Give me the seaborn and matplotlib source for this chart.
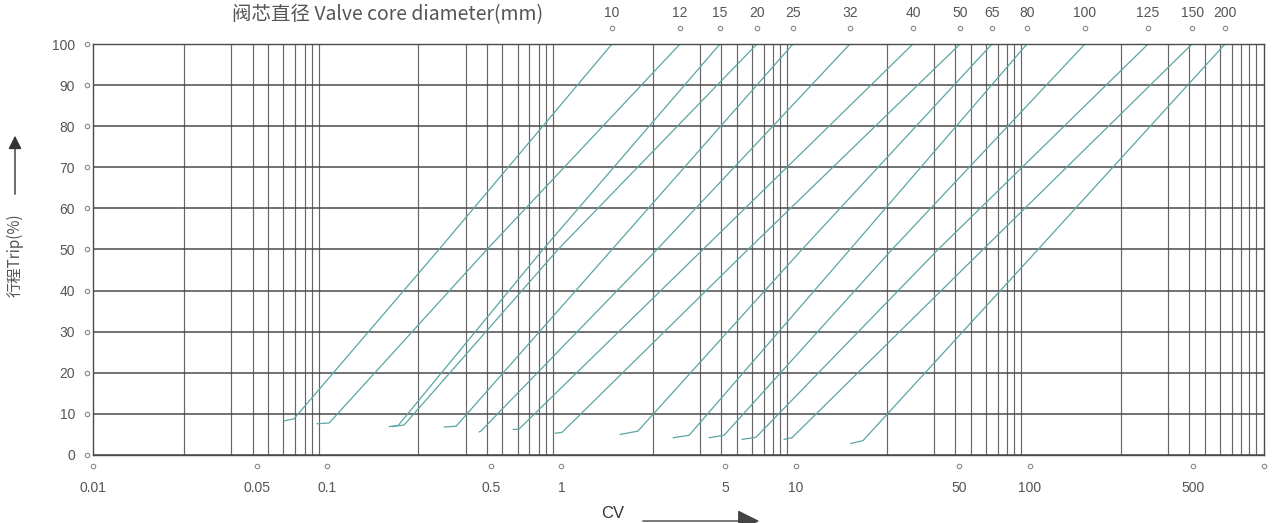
import numpy as np
import pandas as pd
import matplotlib
matplotlib.use("Agg")
import matplotlib.pyplot as plt
import seaborn as sns

# ---------------- data ----------------
diameters = [10, 12, 15, 20, 25, 32, 40, 50, 65, 80, 100, 125, 150, 200]
hook_cv = [0.0654, 0.0904, 0.184, 0.189, 0.315, 0.445, 0.622, 0.939, 1.78, 3.00, 4.27, 5.90, 8.92, 17.2]
hook_trip = [8.3, 7.6, 6.9, 6.9, 6.8, 5.6, 6.2, 5.3, 5.0, 4.2, 4.2, 3.8, 3.8, 2.8]
start_cv = [0.0721, 0.102, 0.201, 0.213, 0.355, 0.453, 0.659, 1.006, 2.12, 3.51, 4.95, 6.77, 9.65, 19.4]
start_trip = [8.8, 7.8, 7.2, 7.3, 7.0, 5.8, 6.3, 5.5, 5.8, 4.8, 4.8, 4.3, 4.2, 3.5]
mid_cv = [0.300, 0.481, 0.834, 0.967, 1.645, 2.56, 4.02, 6.26, 10.65, 17.07, 25.8, 40.6, 63.1, 108.4]
mid_trip = [50] * 14
top_cv = [1.645, 3.21, 4.755, 6.84, 9.75, 17.07, 31.7, 50.4, 69.0, 97.3, 172, 320, 493, 682]
top_trip = [100] * 14

x_tick_values = [0.01, 0.05, 0.1, 0.5, 1, 5, 10, 50, 100, 500, 1000]
x_tick_labels = ["0.01", "0.05", "0.1", "0.5", "1", "5", "10", "50", "100", "500", ""]
y_tick_values = [0, 10, 20, 30, 40, 50, 60, 70, 80, 90, 100]
decades = [0.01, 0.1, 1, 10, 100]
grid_mult = [2.45, 3.9, 4.8, 5.6, 6.5, 7.3, 8.0, 8.6, 9.2, 10]

rows = []
for i, d in enumerate(diameters):
    rows.append((d, hook_cv[i], hook_trip[i]))
    rows.append((d, start_cv[i], start_trip[i]))
    rows.append((d, mid_cv[i], mid_trip[i]))
    rows.append((d, top_cv[i], top_trip[i]))
df = pd.DataFrame(rows, columns=["diameter", "cv", "trip"])

# ---------------- figure ----------------
sns.set_theme(style="white")
plt.rcParams["font.family"] = ["Liberation Sans", "Noto Sans CJK SC", "DejaVu Sans"]

fig = plt.figure(figsize=(12.8, 5.23), dpi=100)
ax = fig.add_axes([93 / 1280, 1 - 455 / 523, (1264 - 93) / 1280, 411 / 523])

line_col = "#5aa5a5"
text_col = "#555555"

sns.lineplot(data=df, x="cv", y="trip", units="diameter", estimator=None,
             sort=False, color=line_col, linewidth=0.9, ax=ax)
ax.set_xscale("log")

# vertical grid lines
minor_pos = [dec * m for dec in decades for m in grid_mult]
ax.set_xticks(x_tick_values)
ax.set_xticklabels(x_tick_labels)
ax.set_xticks(minor_pos, minor=True)
ax.set_yticks(y_tick_values)
ax.grid(False)
ax.grid(which="minor", axis="x", color="#666666", linewidth=0.85)
ax.grid(which="major", axis="y", color="#4a4a4a", linewidth=1.1)
ax.tick_params(axis="x", which="both", length=0, pad=19, labelsize=10, labelcolor=text_col)
ax.tick_params(axis="y", which="both", length=0, pad=13, labelsize=10, labelcolor=text_col)
for s in ax.spines.values():
    s.set_color("#4a4a4a")
    s.set_linewidth(1.0)
ax.set_xlabel("")
ax.set_ylabel("")

# small circle marks at the tick positions
ax.plot([-0.005] * len(y_tick_values), y_tick_values, transform=ax.get_yaxis_transform(),
        ls="none", marker="o", ms=3.2, mfc="none", mec="#888888", mew=0.8, clip_on=False)
ax.plot(x_tick_values, [-0.026] * len(x_tick_values),
        transform=ax.get_xaxis_transform(), ls="none", marker="o", ms=3.2,
        mfc="none", mec="#888888", mew=0.8, clip_on=False)
ax.plot(top_cv, [1.038] * len(top_cv), transform=ax.get_xaxis_transform(), ls="none",
        marker="o", ms=3.2, mfc="none", mec="#888888", mew=0.8, clip_on=False)

# diameter labels at top
for cv, d in zip(top_cv, diameters):
    ax.text(cv, 1.075, str(d), transform=ax.get_xaxis_transform(), ha="center", va="center",
            fontsize=10, color=text_col)

ax.set_xlim(0.01, 1000)
ax.set_ylim(0, 100)

# title
fig.text(388 / 1280, 1 - 15 / 523, "阀芯直径 Valve core diameter(mm)", ha="center", va="center",
         fontsize=14, color=text_col, family=["Noto Sans CJK SC", "DejaVu Sans"])

# y label with arrow
fig.text(15 / 1280, 1 - 255 / 523, "行程Trip(%)", rotation=90, ha="center", va="center",
         fontsize=11, color=text_col, family=["Noto Sans CJK SC", "DejaVu Sans"])
fig.patches.append(matplotlib.patches.FancyArrowPatch(
    (15 / 1280, 1 - 197 / 523), (15 / 1280, 1 - 133 / 523), transform=fig.transFigure,
    arrowstyle="-|>", mutation_scale=20, color="#333333", lw=1.0))

# x label with arrow
fig.text(613 / 1280, 1 - 514 / 523, "CV", ha="center", va="center",
         fontsize=12, color="#333333")
fig.patches.append(matplotlib.patches.FancyArrowPatch(
    (640 / 1280, 1 - 521 / 523), (762 / 1280, 1 - 521 / 523), transform=fig.transFigure,
    arrowstyle="-|>", mutation_scale=34, color="#444444", lw=1.0))

fig.savefig("out.png", dpi=100)
